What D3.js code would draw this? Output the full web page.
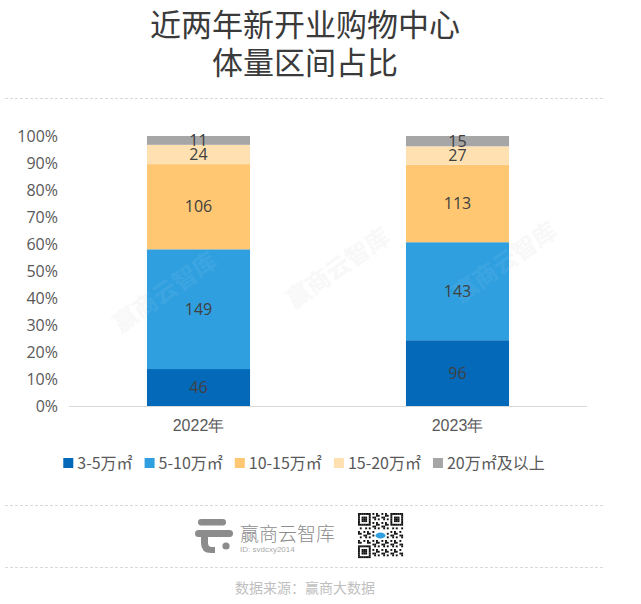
<!DOCTYPE html>
<html>
<head>
<meta charset="utf-8">
<script src="https://cdn.jsdelivr.net/npm/d3@7/dist/d3.min.js"></script>
<style>
  html, body { margin: 0; padding: 0; background: #fff; }
  svg { display: block; font-family: "Noto Sans CJK SC", "Noto Sans", sans-serif; }
</style>
</head>
<body>
<svg id="chart" width="641" height="604"></svg>
<script>
// ---- data ----
const categories = ["2022年", "2023年"];
const seriesNames = ["3-5万㎡", "5-10万㎡", "10-15万㎡", "15-20万㎡", "20万㎡及以上"];
const seriesColors = ["#0569B9", "#2F9FDF", "#FFC772", "#FFE1B1", "#A6A6A6"];
const values2022 = [46, 149, 106, 24, 11];
const values2023 = [96, 143, 113, 27, 15];
const yTicks = [0, 0.1, 0.2, 0.3, 0.4, 0.5, 0.6, 0.7, 0.8, 0.9, 1.0];
const titleLines = ["近两年新开业购物中心", "体量区间占比"];
const sourceText = "数据来源：赢商大数据";
const brandText = "赢商云智库";
const brandId = "ID: svdcxy2014";

const svg = d3.select("#chart");

const rows = categories.map((c, i) => {
  const vals = [values2022, values2023][i];
  const o = { cat: c };
  seriesNames.forEach((s, k) => o[s] = vals[k]);
  return o;
});

const stack = d3.stack().keys(seriesNames).offset(d3.stackOffsetExpand);
const stacked = stack(rows);

const x = d3.scaleBand().domain(categories).range([69, 587]).paddingInner(0.602).paddingOuter(0.301);
const y = d3.scaleLinear().domain([0, 1]).range([406, 136]);

// title
svg.append("g").selectAll("text").data(titleLines).join("text")
  .attr("x", 305).attr("y", (d, i) => 36 + i * 38)
  .attr("text-anchor", "middle")
  .attr("font-size", 31).attr("font-weight", 400)
  .attr("fill", "#3a3a3a").text(d => d);

// dashed separators
[98, 505, 567].forEach(yy => {
  svg.append("line").attr("x1", 5).attr("x2", 605).attr("y1", yy + 0.5).attr("y2", yy + 0.5)
    .attr("stroke", "#d9d9d9").attr("stroke-dasharray", "3,2").attr("stroke-width", 1);
});

// watermarks
[[165, 292], [338, 268], [505, 262]].forEach(([cx, cy]) => {
  svg.append("text").attr("transform", `translate(${cx},${cy}) rotate(-35)`)
    .attr("text-anchor", "middle").attr("dy", "0.35em")
    .attr("font-size", 24).attr("font-weight", 700)
    .attr("fill", "#e0e0e0").attr("opacity", 0.22)
    .text(brandText);
});

// y axis
const yAxis = d3.axisLeft(y).tickValues(yTicks).tickFormat(d3.format(".0%")).tickSize(0).tickPadding(0);
const gy = svg.append("g").attr("transform", "translate(58,0)").call(yAxis);
gy.select(".domain").remove();
gy.selectAll("text").attr("font-size", 16).attr("fill", "#595959").attr("font-family", "'Open Sans','Noto Sans CJK SC',sans-serif");

// x axis
const xAxis = d3.axisBottom(x).tickSize(0).tickPadding(14);
const gx = svg.append("g").attr("transform", "translate(0,406)").call(xAxis);
gx.select(".domain").attr("stroke", "#d9d9d9").attr("d", "M69,0.5H587");
gx.selectAll("text").attr("font-size", 16).attr("fill", "#595959");

// bars
const layers = svg.append("g").selectAll("g").data(stacked).join("g")
  .attr("fill", (d, i) => seriesColors[i]);
layers.selectAll("rect").data(d => d).join("rect")
  .attr("x", d => x(d.data.cat))
  .attr("width", x.bandwidth())
  .attr("y", d => y(d[1]))
  .attr("height", d => y(d[0]) - y(d[1]));

// watermark overlay on bars (subtle)
[[165, 292], [338, 268], [505, 262]].forEach(([cx, cy]) => {
  svg.append("text").attr("transform", `translate(${cx},${cy}) rotate(-35)`)
    .attr("text-anchor", "middle").attr("dy", "0.35em")
    .attr("font-size", 24).attr("font-weight", 700)
    .attr("fill", "#ffffff").attr("opacity", 0.06)
    .text(brandText);
});

// labels
stacked.forEach((layer, i) => {
  svg.append("g").selectAll("text").data(layer).join("text")
    .attr("x", d => x(d.data.cat) + x.bandwidth() / 2)
    .attr("y", d => (y(d[0]) + y(d[1])) / 2)
    .attr("dy", "0.36em")
    .attr("text-anchor", "middle")
    .attr("font-size", 16)
    .attr("font-family", "'Open Sans','Noto Sans CJK SC',sans-serif")
    .attr("fill", "#404040")
    .text(d => d.data[layer.key]);
});

// legend
const legend = svg.append("g");
let lx = 0;
const items = [];
seriesNames.forEach((s, i) => {
  const g = legend.append("g");
  g.append("rect").attr("x", 0).attr("y", -5).attr("width", 10).attr("height", 10).attr("fill", seriesColors[i]);
  const t = g.append("text").attr("x", 14).attr("dy", "0.35em").attr("font-size", 16).attr("fill", "#595959").text(s);
  const w = 14 + t.node().getComputedTextLength();
  items.push({ g, lx });
  lx += w + 12;
});
const totalW = lx - 12;
const startX = 304 - totalW / 2;
items.forEach(it => it.g.attr("transform", `translate(${startX + it.lx},463)`));

// brand logo
const logo = svg.append("g").attr("fill", "#8c8c8c");
logo.append("rect").attr("x", 198).attr("y", 519).attr("width", 28).attr("height", 6.5).attr("rx", 3.2);
logo.append("rect").attr("x", 195).attr("y", 530).attr("width", 38).attr("height", 7).attr("rx", 3.5);
logo.append("path").attr("d", "M201,533 L201,543 Q201,553 211,553 L215,553 L215,547 L212,547 Q208,547 208,543 L208,533 Z");
logo.append("circle").attr("cx", 226).attr("cy", 546).attr("r", 3.6);
svg.append("text").attr("x", 240).attr("y", 541).attr("font-size", 19).attr("fill", "#8c8c8c").attr("font-weight", 300).text(brandText);
svg.append("text").attr("x", 240).attr("y", 552).attr("font-size", 8).attr("fill", "#aaaaaa").attr("font-family", "'Liberation Sans',sans-serif").text(brandId);

// QR code (decorative)
const qr = svg.append("g").attr("transform", "translate(358,513)");
const n = 25, m = 45 / n;
const finder = (r, c) => {
  const inF = (r0, c0) => r >= r0 && r < r0 + 7 && c >= c0 && c < c0 + 7;
  return inF(0, 0) || inF(0, n - 7) || inF(n - 7, 0);
};
for (let r = 0; r < n; r++) {
  for (let c = 0; c < n; c++) {
    let on;
    if (finder(r, c)) {
      const rr = r < 7 ? r : r - (n - 7), cc = c < 7 ? c : c - (n - 7);
      on = (rr === 0 || rr === 6 || cc === 0 || cc === 6) || (rr >= 2 && rr <= 4 && cc >= 2 && cc <= 4);
    } else if ((r < 8 && (c < 8 || c >= n - 8)) || (r >= n - 8 && c < 8)) {
      on = false;
    } else {
      on = ((r * 31 + c * 17 + r * c * 7) % 5) < 2;
    }
    if (r >= 10 && r <= 14 && c >= 9 && c <= 15) on = false;
    if (on) qr.append("rect").attr("x", c * m).attr("y", r * m).attr("width", m + 0.1).attr("height", m + 0.1).attr("fill", "#111");
  }
}
qr.append("ellipse").attr("cx", 22.5).attr("cy", 22.5).attr("rx", 5).attr("ry", 3).attr("fill", "#2F9FDF");

// source
svg.append("text").attr("x", 305).attr("y", 593).attr("text-anchor", "middle").attr("font-size", 14).attr("fill", "#bfbfbf").text(sourceText);
</script>
</body>
</html>
